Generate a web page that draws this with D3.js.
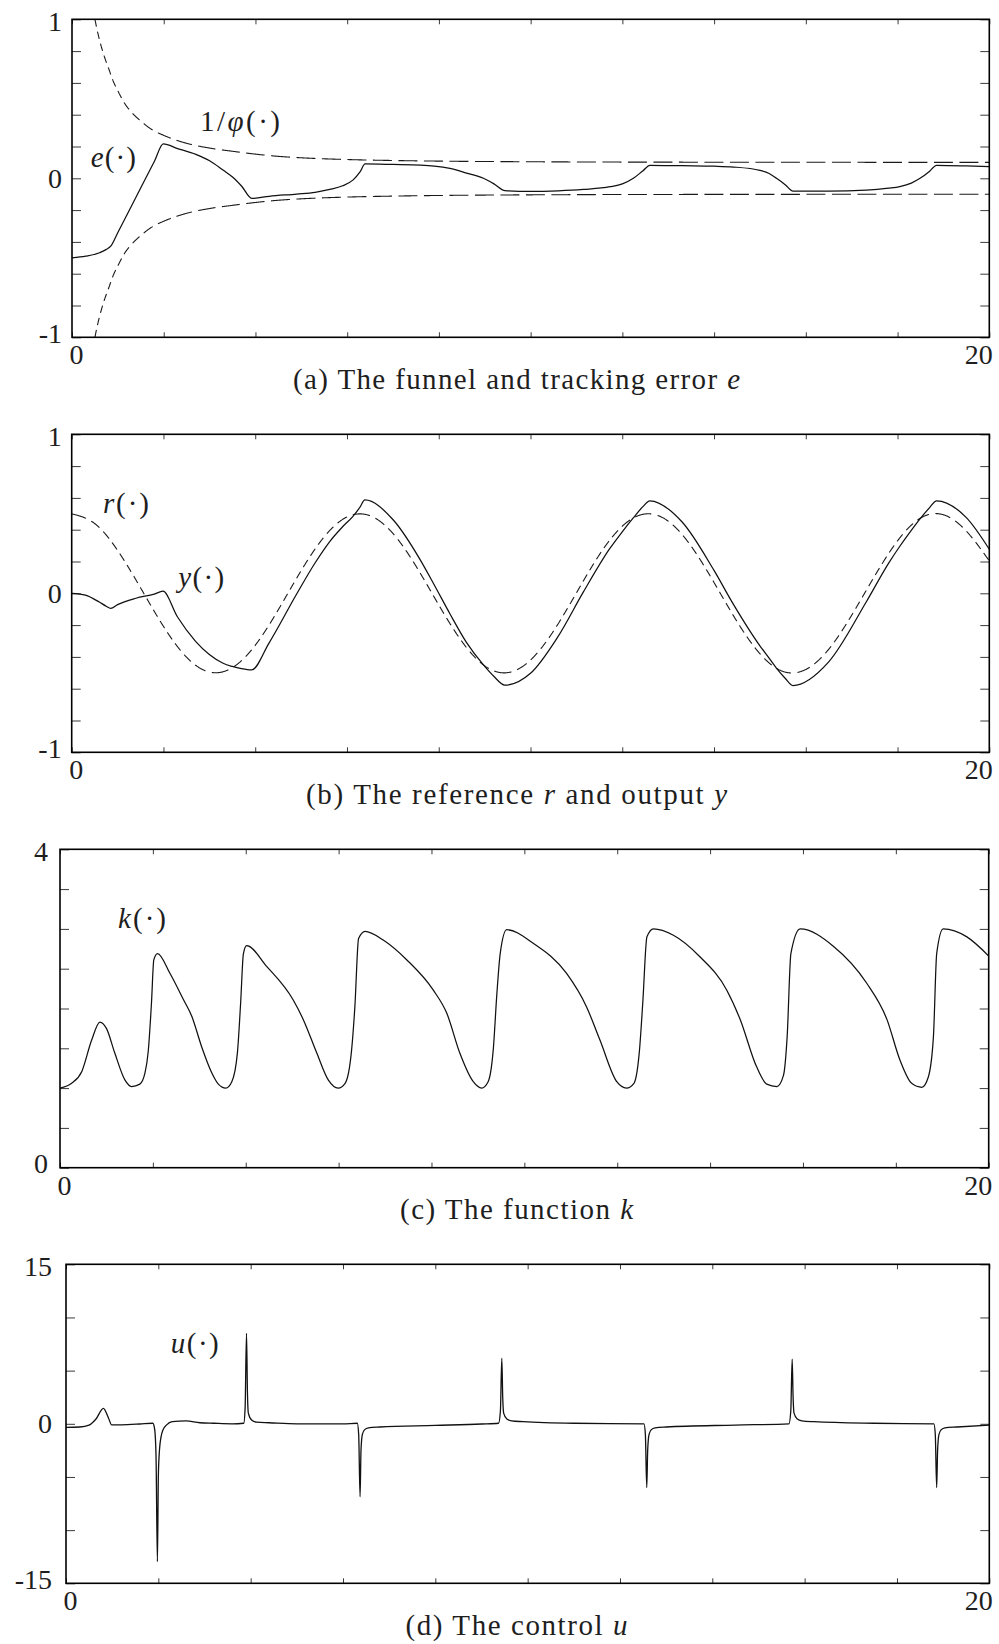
<!DOCTYPE html>
<html><head><meta charset="utf-8">
<script src="https://cdn.jsdelivr.net/npm/d3@7"></script>
<style>
html,body{margin:0;padding:0;background:#fff;}
svg{display:block;}
text{font-family:"Liberation Serif","DejaVu Serif",serif;fill:#1e1e1e;}
</style></head><body>
<svg id="chart" width="999" height="1644"></svg>
<script>
// ---------------- DATA ----------------
const xTicks = [0,2,4,6,8,10,12,14,16,18,20];
const xLabels = [0, 20];

const yTicksA = [-1,-0.8,-0.6,-0.4,-0.2,0,0.2,0.4,0.6,0.8,1];
const yLabelsA = [-1, 0, 1];
const yTicksC = [0,0.5,1,1.5,2,2.5,3,3.5,4];
const yLabelsC = [0, 4];
const yTicksD = [-15,-10,-5,0,5,10,15];
const yLabelsD = [-15, 0, 15];

// funnel boundary 1/phi(t)
const funnelT = [0.5,0.55,0.6,0.7,0.8,0.9,1.0,1.15,1.3,1.5,1.75,2.0,2.5,3.0,3.5,4.0,4.5,5.0,6.0,7.0,8.0,10.0,12.0,15.0,20.0];
const funnelV = [1.0,0.93,0.87,0.77,0.69,0.61,0.55,0.47,0.415,0.36,0.305,0.27,0.22,0.19,0.17,0.152,0.138,0.129,0.118,0.112,0.108,0.104,0.102,0.101,0.1];

// time grid for tracking error e and output y
const errT = [0,0.3,0.6,0.75,0.85,1.0,1.4,1.8,1.99,2.3,2.7,3.0,3.3,3.5,3.7,3.92,4.3,4.9,5.3,5.62,5.9,6.13,6.28,6.39,7.0,7.6,7.9,8.24,8.6,8.97,9.2,9.44,10.0,10.6,11.15,11.73,12.0,12.24,12.45,12.6,13.3,14.0,14.42,15.0,15.2,15.36,15.55,15.72,16.5,17.32,17.8,18.05,18.3,18.49,18.7,18.85,19.5,20.0];
const errV = [-0.500,-0.490,-0.468,-0.447,-0.425,
  -0.341,-0.116,0.109,0.216,
  0.187,0.150,0.110,0.050,0.008,-0.050,-0.126,
  -0.113,-0.099,-0.088,-0.070,-0.047,-0.010,0.040,0.090,
  0.087,0.083,0.077,0.062,0.033,0.000,-0.035,-0.078,
  -0.083,-0.079,-0.070,-0.053,-0.035,0.000,0.048,0.082,
  0.079,0.076,0.071,0.050,0.030,0.000,-0.040,-0.080,
  -0.080,-0.074,-0.062,-0.052,-0.030,0.000,0.045,0.082,
  0.078,0.073];
const outV = [0.000,-0.012,-0.055,-0.081,-0.095,
  -0.071,-0.031,-0.005,0.013,
  -0.146,-0.302,-0.385,-0.440,-0.460,-0.474,-0.482,
  -0.313,-0.006,0.189,0.324,0.417,0.484,0.540,0.587,
  0.464,0.209,0.054,-0.127,-0.307,-0.449,-0.522,-0.578,
  -0.503,-0.272,0.007,0.282,0.387,0.474,0.545,0.582,
  0.450,0.144,-0.068,-0.330,-0.407,-0.470,-0.534,-0.580,
  -0.431,-0.053,0.187,0.296,0.396,0.468,0.539,0.582,
  0.476,0.277];

// reference r
const refT = [0,0.5,1,1.5,2,2.5,3,3.5,4,4.5,5,5.5,6,6.5,7,7.5,8,8.5,9,9.5,10,10.5,11,11.5,12,12.5,13,13.5,14,14.5,15,15.5,16,16.5,17,17.5,18,18.5,19,19.5,20];
const refV = [0.500,0.439,0.270,0.035,-0.208,-0.401,-0.495,-0.468,-0.327,-0.105,0.142,0.354,0.480,0.488,0.377,0.173,-0.073,-0.301,-0.456,-0.499,-0.420,-0.238,0.002,0.242,0.422,0.499,0.454,0.297,0.068,-0.177,-0.380,-0.491,-0.479,-0.352,-0.138,0.108,0.330,0.473,0.494,0.391,0.204];

// gain k
const kT = [0,0.25,0.47,0.68,0.86,1.0,1.18,1.4,1.54,1.72,1.83,1.9,1.97,2.02,2.1,2.37,2.66,2.84,3.05,3.27,3.41,3.57,3.70,3.82,3.89,3.95,4.02,4.45,5.02,5.24,5.53,5.78,5.99,6.14,6.28,6.35,6.43,6.57,6.96,7.47,8.04,8.33,8.61,8.9,9.08,9.22,9.33,9.41,9.48,9.62,10.19,10.91,11.34,11.63,11.99,12.2,12.36,12.48,12.55,12.64,12.78,13.21,13.78,14.36,14.65,15.0,15.22,15.44,15.58,15.66,15.74,15.94,16.66,17.37,17.81,18.09,18.34,18.56,18.7,18.81,18.88,19.02,19.53,20.0];
const kV = [1.00,1.06,1.21,1.60,1.83,1.75,1.44,1.10,1.02,1.05,1.19,1.46,2.07,2.61,2.69,2.44,2.11,1.90,1.52,1.19,1.05,1.00,1.08,1.44,2.07,2.69,2.79,2.53,2.11,1.86,1.44,1.10,1.00,1.06,1.48,2.02,2.88,2.97,2.86,2.61,2.23,1.94,1.44,1.08,1.00,1.08,1.48,2.20,2.69,2.99,2.82,2.44,2.02,1.60,1.08,1.00,1.06,1.48,2.07,2.90,3.00,2.92,2.65,2.23,1.86,1.27,1.05,1.02,1.16,1.65,2.69,3.00,2.78,2.32,1.86,1.35,1.06,1.01,1.14,1.65,2.69,3.00,2.90,2.66];

// control u
const uT = [0,0.3,0.5,0.65,0.81,0.92,0.99,1.2,1.6,1.88,1.92,1.95,1.98,2.0,2.02,2.06,2.1,2.18,2.3,2.6,2.9,3.2,3.6,3.85,3.88,3.91,3.93,3.95,4.02,4.13,4.4,5.0,6.0,6.31,6.34,6.37,6.39,6.42,6.47,6.55,6.8,8.0,9.0,9.37,9.41,9.44,9.46,9.48,9.55,9.65,9.9,11.0,12.52,12.55,12.58,12.6,12.63,12.68,12.76,13.0,14.5,15.66,15.7,15.73,15.75,15.77,15.84,15.94,16.2,17.5,18.8,18.83,18.86,18.88,18.91,18.96,19.04,19.3,20.0];
const uV = [-0.33,-0.30,-0.12,0.45,1.46,0.55,-0.11,-0.10,-0.02,0.05,-0.5,-3.0,-12.97,-5.0,-2.8,-1.2,-0.58,-0.1,0.2,0.28,0.1,0.05,0.0,0.05,1.5,8.5,3.0,1.0,0.36,0.15,0.1,0.0,0.0,0.05,-1.0,-6.86,-2.5,-1.0,-0.55,-0.38,-0.3,-0.15,-0.02,0.05,1.2,6.16,2.5,1.0,0.45,0.28,0.2,0.05,0.0,-1.0,-6.0,-2.5,-1.0,-0.55,-0.38,-0.3,-0.12,0.0,1.2,6.07,2.5,1.0,0.45,0.28,0.2,0.05,0.0,-1.0,-6.0,-2.5,-1.0,-0.55,-0.38,-0.3,-0.12];

// ---------------- LAYOUT ----------------
const layout = [
  {l:72,   r:989.3, t:19.3,   b:337.3,  gap:10},
  {l:71.7, r:989.3, t:434.3,  b:752.3,  gap:10},
  {l:60,   r:988.7, t:849.3,  b:1167.7, gap:12},
  {l:66,   r:989.3, t:1264.3, b:1583.3, gap:14}
];
const FS = 28;
const svg = d3.select("#chart");
const defs = svg.append("defs");

function richText(parent, parts, x, y, size, width, anchor) {
  const t = parent.append("text").attr("x", x).attr("y", y)
    .attr("font-size", size).attr("text-anchor", anchor || "start")
    .style("white-space", "pre");
  if (width) t.attr("textLength", width).attr("lengthAdjust", "spacing");
  parts.forEach(([s, it]) => t.append("tspan").text(s).attr("font-style", it ? "italic" : "normal"));
  return t;
}

function drawAnisoDashed(parent, pts, curve) {
  const D = 7, G = 4.5, SXD = 2.7, SXG = 1.4, step = 0.5;
  const tmp = parent.append("path").attr("d", d3.line().curve(curve)(pts))
    .attr("fill", "none").attr("stroke", "none");
  const node = tmp.node(), total = node.getTotalLength();
  let on = true, acc = 0, prev = node.getPointAtLength(0);
  let d = `M${prev.x.toFixed(2)},${prev.y.toFixed(2)}`;
  for (let s = step; s < total + step; s += step) {
    const p = node.getPointAtLength(Math.min(s, total));
    const dx = p.x - prev.x, dy = p.y - prev.y;
    acc += Math.hypot(dx / (on ? SXD : SXG), dy);
    if (on) d += `L${p.x.toFixed(2)},${p.y.toFixed(2)}`;
    if (acc >= (on ? D : G)) {
      acc = 0; on = !on;
      if (on) d += `M${p.x.toFixed(2)},${p.y.toFixed(2)}`;
    }
    prev = p;
  }
  tmp.remove();
  parent.append("path").attr("d", d).attr("fill", "none")
    .attr("stroke", "#1a1a1a").attr("stroke-width", 1.1);
}

function drawPanel(i, spec) {
  const L = layout[i];
  const x = d3.scaleLinear().domain([0, 20]).range([L.l, L.r]);
  const y = d3.scaleLinear().domain(spec.yDomain).range([L.b, L.t]);
  const g = svg.append("g");
  const clipId = "clip" + i;
  defs.append("clipPath").attr("id", clipId).append("rect")
    .attr("x", L.l).attr("y", L.t).attr("width", L.r - L.l).attr("height", L.b - L.t);

  // inward ticks on all four sides
  const tk = g.append("g").attr("color", "#3a3a3a");
  const clean = s => { s.select(".domain").remove(); s.selectAll("line").attr("stroke-width", 1); };
  tk.append("g").attr("transform", `translate(0,${L.b})`)
    .call(d3.axisBottom(x).tickValues(xTicks).tickSize(-5).tickFormat("")).call(clean);
  tk.append("g").attr("transform", `translate(0,${L.t})`)
    .call(d3.axisTop(x).tickValues(xTicks).tickSize(-5).tickFormat("")).call(clean);
  tk.append("g").attr("transform", `translate(${L.l},0)`)
    .call(d3.axisLeft(y).tickValues(spec.yTicks).tickSize(-9).tickFormat("")).call(clean);
  tk.append("g").attr("transform", `translate(${L.r},0)`)
    .call(d3.axisRight(y).tickValues(spec.yTicks).tickSize(-9).tickFormat("")).call(clean);

  const plot = g.append("g").attr("clip-path", `url(#${clipId})`);
  spec.series.forEach(s => {
    const pts = s.t.map((tv, j) => [x(tv), y(s.v[j])]);
    if (s.dashed) drawAnisoDashed(plot, pts, s.curve);
    else plot.append("path").attr("d", d3.line().curve(s.curve)(pts))
      .attr("fill", "none").attr("stroke", "#111").attr("stroke-width", s.w || 1.25)
      .attr("stroke-linejoin", "round");
  });

  // frame
  g.append("rect").attr("x", L.l).attr("y", L.t).attr("width", L.r - L.l).attr("height", L.b - L.t)
    .attr("fill", "none").attr("stroke", "#000").attr("stroke-width", 1.6);

  // y labels
  spec.yLabels.forEach(v => {
    const off = v === spec.yDomain[1] ? 12 : (v === spec.yDomain[0] ? 5.5 : 9.5);
    g.append("text").attr("x", L.l - L.gap).attr("y", y(v) + off)
      .attr("text-anchor", "end").attr("font-size", FS).text(String(v));
  });
  // x labels
  xLabels.forEach(v => {
    const cx = v === 0 ? x(v) + 4.5 : x(v) - 10.5;
    g.append("text").attr("x", cx).attr("y", L.b + 27)
      .attr("text-anchor", "middle").attr("font-size", FS).text(String(v));
  });
  // caption
  richText(g, spec.caption, 516.5, L.b + 51.5, 29, spec.capWidth, "middle");
  // curve annotations
  spec.notes.forEach(n => richText(g, n.parts, x(n.t), y(n.v), 29, n.w, "start"));
}

drawPanel(0, {
  yDomain: [-1, 1], yTicks: yTicksA, yLabels: yLabelsA,
  series: [
    {t: funnelT, v: funnelV, dashed: true, curve: d3.curveMonotoneX},
    {t: funnelT, v: funnelV.map(v => -v), dashed: true, curve: d3.curveMonotoneX},
    {t: errT, v: errV, curve: d3.curveMonotoneX}
  ],
  caption: [["(a) The funnel and tracking error ", false], ["e", true]], capWidth: 447,
  notes: [
    {parts: [["1/", false], ["φ", true], ["(·)", false]], t: 2.79, v: 0.30, w: 80},
    {parts: [["e", true], ["(·)", false]], t: 0.41, v: 0.07, w: 45}
  ]
});

drawPanel(1, {
  yDomain: [-1, 1], yTicks: yTicksA, yLabels: yLabelsA,
  series: [
    {t: refT, v: refV, dashed: true, curve: d3.curveNatural},
    {t: errT, v: outV, curve: d3.curveMonotoneX}
  ],
  caption: [["(b) The reference ", false], ["r", true], [" and output ", false], ["y", true]], capWidth: 421,
  notes: [
    {parts: [["r", true], ["(·)", false]], t: 0.68, v: 0.505, w: 46},
    {parts: [["y", true], ["(·)", false]], t: 2.32, v: 0.04, w: 46}
  ]
});

drawPanel(2, {
  yDomain: [0, 4], yTicks: yTicksC, yLabels: yLabelsC,
  series: [{t: kT, v: kV, curve: d3.curveMonotoneX}],
  caption: [["(c) The function ", false], ["k", true]], capWidth: 233,
  notes: [{parts: [["k", true], ["(·)", false]], t: 1.25, v: 3.01, w: 48}]
});

drawPanel(3, {
  yDomain: [-15, 15], yTicks: yTicksD, yLabels: yLabelsD,
  series: [{t: uT, v: uV, curve: d3.curveMonotoneX, w: 1.3}],
  caption: [["(d) The control ", false], ["u", true]], capWidth: 222,
  notes: [{parts: [["u", true], ["(·)", false]], t: 2.27, v: 6.66, w: 48}]
});
</script></body></html>
